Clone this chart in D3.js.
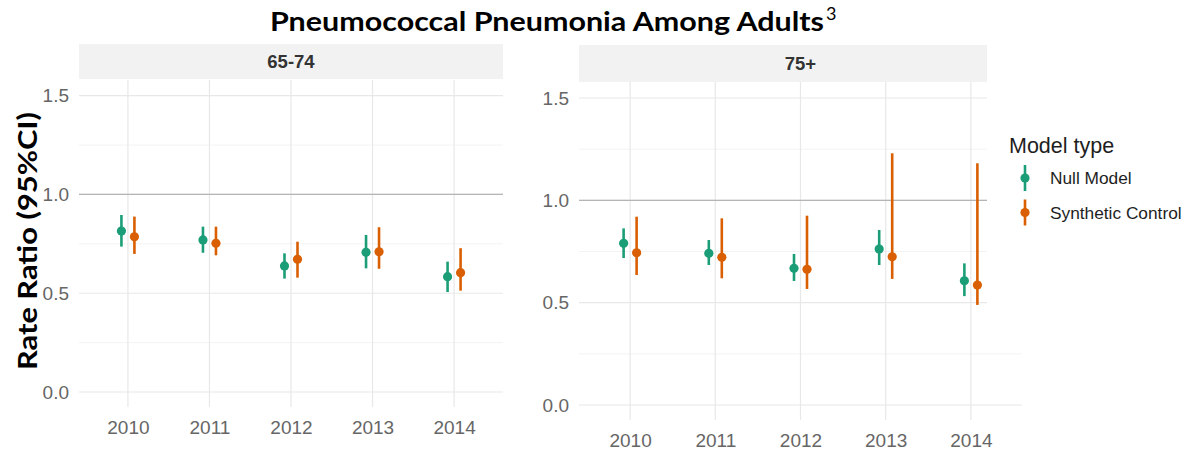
<!DOCTYPE html>
<html>
<head>
<meta charset="utf-8">
<script src="https://cdn.jsdelivr.net/npm/d3@7"></script>
<style>
  html, body { margin: 0; padding: 0; background: #fff; }
  svg { display: block; }
</style>
</head>
<body>
<svg id="chart" width="1188" height="449"></svg>
<script>
// ---- data ----
const years = ["2010", "2011", "2012", "2013", "2014"];
const panels = ["65-74", "75+"];
const seriesNames = ["Null Model", "Synthetic Control"];
const yTicks = [0, 0.5, 1.0, 1.5];
const yMinorTicks = [0.25, 0.75, 1.25];

// 65-74
const nullEst_6574 = [0.815, 0.770, 0.638, 0.707, 0.584];
const nullLo_6574  = [0.736, 0.705, 0.574, 0.626, 0.506];
const nullHi_6574  = [0.896, 0.837, 0.702, 0.795, 0.660];
const synEst_6574  = [0.786, 0.753, 0.672, 0.710, 0.604];
const synLo_6574   = [0.699, 0.692, 0.579, 0.624, 0.513];
const synHi_6574   = [0.888, 0.837, 0.761, 0.834, 0.728];
// 75+
const nullEst_75 = [0.790, 0.741, 0.668, 0.762, 0.607];
const nullLo_75  = [0.718, 0.684, 0.606, 0.684, 0.532];
const nullHi_75  = [0.863, 0.806, 0.738, 0.855, 0.692];
const synEst_75  = [0.744, 0.722, 0.663, 0.724, 0.586];
const synLo_75   = [0.635, 0.619, 0.567, 0.616, 0.489];
const synHi_75   = [0.920, 0.912, 0.925, 1.230, 1.181];

const colors = ["#1b9e77", "#d95f02"];

const panelData = [
  { name: panels[0], series: [
      { est: nullEst_6574, lo: nullLo_6574, hi: nullHi_6574 },
      { est: synEst_6574, lo: synLo_6574, hi: synHi_6574 } ] },
  { name: panels[1], series: [
      { est: nullEst_75, lo: nullLo_75, hi: nullHi_75 },
      { est: synEst_75, lo: synLo_75, hi: synHi_75 } ] }
];

// ---- layout ----
const layouts = [
  { x0: 79, x1: 503, stripTop: 44, stripBot: 79, yTop: 80, yBot: 407, y0px: 392, y15px: 95.7, labelRight: 69, xLabelY: 434 },
  { x0: 579, x1: 1022, stripTop: 45, stripBot: 82, yTop: 82, yBot: 420, y0px: 405, y15px: 98, labelRight: 569, xLabelY: 447 }
];

const svg = d3.select("#chart");
const tickFont = "'Liberation Sans', Arial, sans-serif";
const titleFont = "Lato, 'Open Sans', sans-serif";
const dodge = 6.5;

panelData.forEach((p, pi) => {
  const L = layouts[pi];
  const x = d3.scalePoint().domain(years).range([L.x0, L.x1]).padding(0.6);
  const y = d3.scaleLinear().domain([0, 1.5]).range([L.y0px, L.y15px]);
  const g = svg.append("g");

  // strip
  g.append("rect").attr("x", L.x0).attr("y", L.stripTop)
    .attr("width", L.x1 - L.x0).attr("height", L.stripBot - L.stripTop)
    .attr("fill", "#f2f2f2");
  g.append("text").attr("x", (L.x0 + L.x1) / 2)
    .attr("y", (L.stripTop + L.stripBot) / 2 + 6.5)
    .attr("text-anchor", "middle")
    .attr("font-family", tickFont).attr("font-weight", "bold")
    .attr("font-size", 18.5).attr("fill", "#333")
    .text(p.name);

  // minor grid
  g.selectAll(".minor").data(yMinorTicks).enter().append("line")
    .attr("x1", L.x0).attr("x2", L.x1)
    .attr("y1", d => y(d)).attr("y2", d => y(d))
    .attr("stroke", "#f3f3f3").attr("stroke-width", 1);
  // major grid
  g.selectAll(".major").data(yTicks).enter().append("line")
    .attr("x1", L.x0).attr("x2", L.x1)
    .attr("y1", d => y(d)).attr("y2", d => y(d))
    .attr("stroke", "#e8e8e8").attr("stroke-width", 1.2);
  g.selectAll(".vgrid").data(years).enter().append("line")
    .attr("x1", d => x(d)).attr("x2", d => x(d))
    .attr("y1", L.yTop).attr("y2", L.yBot)
    .attr("stroke", "#e8e8e8").attr("stroke-width", 1.2);

  // reference line at 1
  g.append("line").attr("x1", L.x0).attr("x2", L.x1)
    .attr("y1", y(1)).attr("y2", y(1))
    .attr("stroke", "#b5b5b5").attr("stroke-width", 1.2);

  // y axis labels
  const yAxis = d3.axisLeft(y).tickValues(yTicks).tickFormat(d3.format(".1f")).tickSize(0).tickPadding(0);
  const ya = g.append("g").attr("transform", `translate(${L.labelRight},0)`).call(yAxis);
  ya.select(".domain").remove();
  ya.selectAll("text").attr("font-family", tickFont).attr("font-size", 19).attr("fill", "#666");

  // x axis labels
  const xAxis = d3.axisBottom(x).tickSize(0).tickPadding(0);
  const xa = g.append("g").attr("transform", `translate(0,${L.xLabelY - 14})`).call(xAxis);
  xa.select(".domain").remove();
  xa.selectAll("text").attr("font-family", tickFont).attr("font-size", 19).attr("fill", "#666");

  // data
  p.series.forEach((s, si) => {
    const off = si === 0 ? -dodge : dodge;
    const sg = g.append("g");
    sg.selectAll("line").data(years).enter().append("line")
      .attr("x1", d => x(d) + off).attr("x2", d => x(d) + off)
      .attr("y1", (d, i) => y(s.lo[i])).attr("y2", (d, i) => y(s.hi[i]))
      .attr("stroke", colors[si]).attr("stroke-width", 2.6);
    sg.selectAll("circle").data(years).enter().append("circle")
      .attr("cx", d => x(d) + off).attr("cy", (d, i) => y(s.est[i]))
      .attr("r", 4.6).attr("fill", colors[si]);
  });
});

// legend (white box covers right part of panel)
const lg = svg.append("g");
lg.append("rect").attr("x", 987).attr("y", 40).attr("width", 201).attr("height", 290).attr("fill", "#fff");
lg.append("text").attr("x", 1009).attr("y", 153)
  .attr("font-family", tickFont).attr("font-size", 21.5).attr("fill", "#1e1e1e")
  .text("Model type");
const keyY = [178, 212.5];
seriesNames.forEach((n, i) => {
  lg.append("line").attr("x1", 1025).attr("x2", 1025)
    .attr("y1", keyY[i] - 13).attr("y2", keyY[i] + 13)
    .attr("stroke", colors[i]).attr("stroke-width", 2.6);
  lg.append("circle").attr("cx", 1025).attr("cy", keyY[i]).attr("r", 4.6).attr("fill", colors[i]);
  lg.append("text").attr("x", 1050).attr("y", keyY[i] + 6)
    .attr("font-family", tickFont).attr("font-size", 17.3).attr("fill", "#1e1e1e")
    .text(n);
});

// title
const t = svg.append("text").attr("x", 270).attr("y", 31)
  .attr("font-family", titleFont).attr("font-weight", "bold")
  .attr("font-size", 27).attr("fill", "#000");
t.append("tspan").attr("textLength", 554).attr("lengthAdjust", "spacingAndGlyphs")
  .text("Pneumococcal Pneumonia Among Adults");
t.append("tspan").attr("dx", 2).attr("dy", -11).attr("font-weight", "normal").attr("font-size", 18).text("3");

// y title
svg.append("text").attr("transform", "translate(37,241) rotate(-90)")
  .attr("text-anchor", "middle")
  .attr("font-family", titleFont).attr("font-weight", "bold")
  .attr("font-size", 27).attr("fill", "#000")
  .attr("textLength", 258).attr("lengthAdjust", "spacingAndGlyphs")
  .text("Rate Ratio (95%CI)");
</script>
</body>
</html>
